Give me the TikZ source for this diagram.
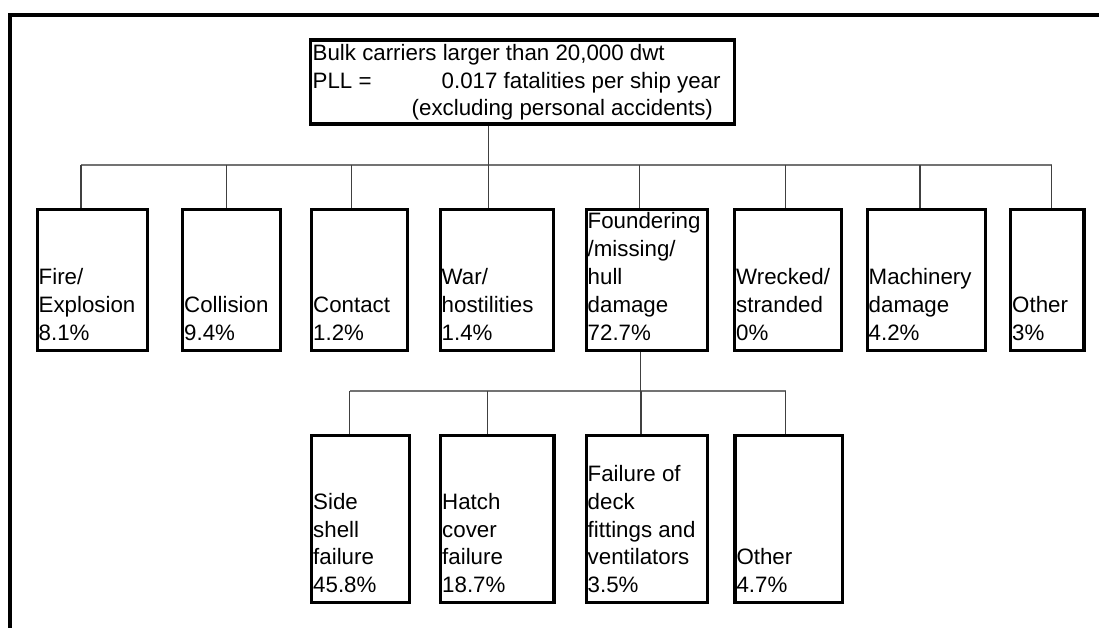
\documentclass[tikz,border=0pt]{standalone}
\usepackage{fontspec}
\setmainfont{Liberation Sans}
\begin{document}
\begin{tikzpicture}[x=1pt,y=-1pt,
  box/.style={draw=black, line width=3.3pt, inner sep=0pt, anchor=north west},
  txt/.style={anchor=base west, inner sep=0pt, align=left, font=\fontsize{22.3}{27.8}\selectfont},
  bus/.style={draw=black!55, line width=1.5pt},
  drop/.style={draw=black!75, line width=1.5pt}]
\useasboundingbox (0,0) rectangle (1099,628);

% outer frame (left and top edges)
\draw[line width=3.5pt] (10,628) -- (10,15) -- (1099,15);

% root
\node[box, minimum width=424pt, minimum height=84pt] (root) at (309,38.5) {};
\node[txt] (roott) at (312.5,116) {Bulk carriers larger than 20,000 dwt\\
  \makebox[129pt][l]{PLL =}0.017 fatalities per ship year\\
  \hspace*{99pt}(excluding personal accidents)};

% first level
\node[box, minimum width=110.5pt, minimum height=141pt] (fire) at (35.5,208) {};
\node[box, minimum width=98pt,    minimum height=141pt] (coll) at (181,208) {};
\node[box, minimum width=96pt,    minimum height=141pt] (cont) at (310,208) {};
\node[box, minimum width=113.5pt, minimum height=141pt] (war)  at (438.5,208) {};
\node[box, minimum width=120.7pt, minimum height=141pt] (foun) at (585,208) {};
\node[box, minimum width=106.7pt, minimum height=141pt] (wrec) at (733,208) {};
\node[box, minimum width=118pt,   minimum height=141pt] (mach) at (866,208) {};
\node[box, minimum width=73.3pt,  minimum height=141pt] (oth)  at (1009,208) {};

\node[txt] (firet) at (38.5,340)  {Fire/\\Explosion\\8.1\%};
\node[txt] (collt) at (184,340)   {Collision\\9.4\%};
\node[txt] (contt) at (313,340)   {Contact\\1.2\%};
\node[txt] (wart)  at (441.5,340) {War/\\hostilities\\1.4\%};
\node[txt] (fount) at (587.5,340) {Foundering\\/missing/\\hull\\damage\\72.7\%};
\node[txt] (wrect) at (736,340)   {Wrecked/\\stranded\\0\%};
\node[txt] (macht) at (868.5,340) {Machinery\\damage\\4.2\%};
\node[txt] (otht)  at (1012,340)  {Other\\3\%};

% second level
\node[box, minimum width=97.7pt,  minimum height=167pt] (side) at (310,434) {};
\node[box, minimum width=113.3pt, minimum height=167pt] (hatc) at (439,434) {};
\node[box, minimum width=120.7pt, minimum height=167pt] (fail) at (585,434) {};
\node[box, minimum width=107.7pt, minimum height=167pt] (oth2) at (733.3,434) {};

\node[txt] (sidet) at (313,592.7)   {Side\\shell\\failure\\45.8\%};
\node[txt] (hatct) at (442,592.7)   {Hatch\\cover\\failure\\18.7\%};
\node[txt] (failt) at (587.5,592.7) {Failure of\\deck\\fittings and\\ventilators\\3.5\%};
\node[txt] (oth2t) at (736.3,592.7) {Other\\4.7\%};

% connectors, first level
\coordinate (r0) at (488.3,165);
\coordinate (r1) at (81,165);
\coordinate (r2) at (226.7,165);
\coordinate (r3) at (351.7,165);
\coordinate (r4) at (488.3,165);
\coordinate (r5) at (639.3,165);
\coordinate (r6) at (785.7,165);
\coordinate (r7) at (920,165);
\coordinate (r8) at (1051.5,165);
\draw[bus] (r1) -- (r8);
\draw[drop] (r0 |- root.south) -- (r0);
\foreach \c/\n in {r1/fire, r2/coll, r3/cont, r4/war, r5/foun, r6/wrec, r7/mach, r8/oth}
  \draw[drop] (\c) -- (\c |- \n.north);

% connectors, second level
\coordinate (s0) at (640.7,391);
\coordinate (s1) at (349.5,391);
\coordinate (s2) at (487.7,391);
\coordinate (s3) at (641,391);
\coordinate (s4) at (785.7,391);
\draw[bus] (s1) -- (s4);
\draw[drop] (s0 |- foun.south) -- (s0);
\foreach \c/\n in {s1/side, s2/hatc, s3/fail, s4/oth2}
  \draw[drop] (\c) -- (\c |- \n.north);

\end{tikzpicture}
\end{document}
